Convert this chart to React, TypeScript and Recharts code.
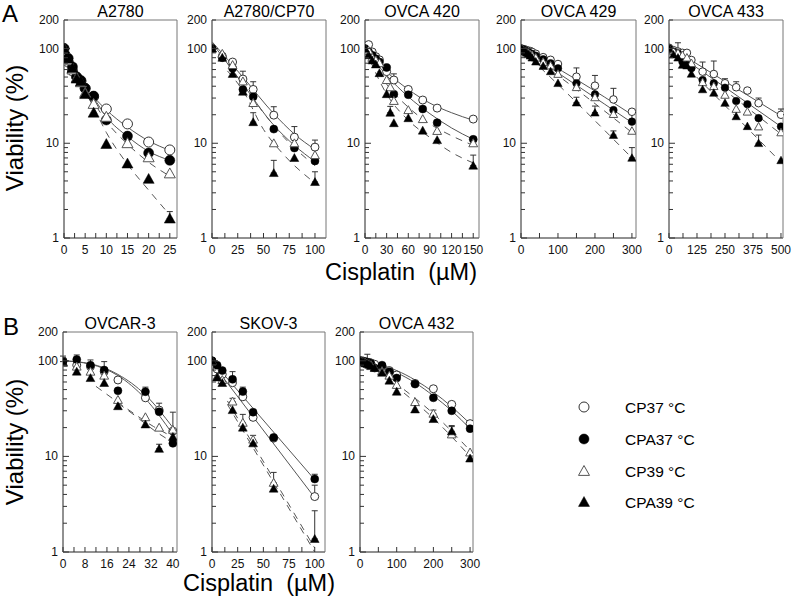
import React from "react";
import { ComposedChart, Scatter, Line, XAxis, YAxis, ErrorBar, ReferenceArea } from "recharts";

const FONT = "'Liberation Sans', Arial, Helvetica, sans-serif";

// ---------- shared axis ticks ----------
const Y_TICKS = [1, 2, 3, 4, 5, 6, 7, 8, 9, 10, 20, 30, 40, 50, 60, 70, 80, 90, 100, 200];
const Y_LABELS = [1, 10, 100, 200];
const Y_MAJORS = [1, 10, 100];

const SERIES_NAMES = ["CP37 \u00B0C", "CPA37 \u00B0C", "CP39 \u00B0C", "CPA39 \u00B0C"];

// ---------- A2780 ----------
const A2780_X = [0, 1, 2, 3, 4, 5, 7, 10, 15, 20, 25];
const A2780_CP37 = [100, 72, 58, 50, 45, 38, 31, 23, 16, 10.3, 8.5];
const A2780_CPA37 = [100, 79, 64, 50, 46, 38, 31.5, 17.6, 11.9, 7.9, 6.6];
const A2780_CP39 = [100, 75, 60, 49, 44, 34, 26, 19, 10, 7.1, 4.8];
const A2780_CPA39 = [100, 78, 62, 48, 45, 33, 21, 9.8, 6.1, 4.2, 1.6];
const A2780_CPA39_ERR = [null, null, null, null, null, null, null, null, null, null, 0.3];
const A2780_FIT_X = [0, 2, 5, 7, 10, 15, 20, 25];
const A2780_FIT_CP37 = [95, 62, 40, 31, 22.5, 14.8, 10.6, 8.4];
const A2780_FIT_CPA37 = [95, 62, 38, 30, 19, 11.8, 8.2, 6.6];
const A2780_FIT_CP39 = [95, 62, 36, 27, 17, 9.8, 6.3, 4.5];
const A2780_FIT_CPA39 = [95, 62, 35, 24, 13, 6.0, 3.2, 1.75];
const A2780_XTICKS = [0, 2.5, 5, 7.5, 10, 12.5, 15, 17.5, 20, 22.5, 25];
const A2780_XLABELS = [0, 5, 10, 15, 20, 25];

// ---------- A2780/CP70 ----------
const CP70_X = [0, 10, 20, 30, 40, 60, 80, 100];
const CP70_CP37 = [100, 83, 72, 47.6, 37, 19.8, 11.6, 9.1];
const CP70_CPA37 = [100, 80, 62, 37, 31, 14.1, 8.9, 6.5];
const CP70_CP39 = [100, 88, 67, 45, 26.6, 10, 10, 7.5];
const CP70_CPA39 = [100, 80, 54, 35, 16.7, 4.85, 7.0, 3.9];
const CP70_CP37_ERR = [null, null, null, 10, 7.6, 4.5, 3.4, 1.7];
const CP70_CPA39_ERR = [null, null, null, null, 4.3, 1.75, null, 1.1];
const CP70_FIT_X37 = [0, 30, 60, 80, 100];
const CP70_FIT_CP37 = [118, 50, 20.5, 12.5, 8.6];
const CP70_FIT_CPA37 = [115, 42, 15.5, 9.5, 6.4];
const CP70_FIT_X39 = [15, 30, 50, 70, 100];
const CP70_FIT_CP39 = [70, 42, 21, 11.5, 5.8];
const CP70_FIT_CPA39 = [58, 36, 14, 7.5, 3.8];
const CP70_XTICKS = [0, 12.5, 25, 37.5, 50, 62.5, 75, 87.5, 100];
const CP70_XLABELS = [0, 25, 50, 75, 100];

// ---------- OVCA 420 ----------
const O420_X = [0, 5, 10, 15, 20, 30, 35, 40, 60, 80, 100, 150];
const O420_CP37 = [104, 110, 92, 82, 76, 57, null, 46.5, 37, 28.6, 23.5, 18];
const O420_CPA37 = [100, 92, 85, 78, 72, 63, null, 33, 32.5, 23, 16.5, 11];
const O420_CP39 = [100, 95, 80, 75, 70, 46.5, 39, 28, 22.4, 18, 13.5, 10];
const O420_CPA39 = [100, 85, 75, 68, 55, 33, 21, 16.3, 18.4, 13.6, 10.8, 5.8];
const O420_CP37_ERR = [null, null, null, null, null, null, null, 7.5, null, null, null, null];
const O420_CPA39_ERR = [null, null, null, null, null, null, 3.5, null, null, null, null, 1.7];
const O420_FIT_X = [0, 30, 60, 90, 120, 150];
const O420_FIT_CP37 = [105, 57, 37, 26.5, 21, 17.5];
const O420_FIT_CPA37 = [100, 52, 31, 20.5, 14.5, 11];
const O420_FIT_CP39 = [100, 42, 24, 16, 12, 9.5];
const O420_FIT_CPA39 = [100, 33, 17.5, 11.5, 8, 6.2];
const O420_XTICKS = [0, 15, 30, 45, 60, 75, 90, 105, 120, 135, 150];
const O420_XLABELS = [0, 30, 60, 90, 120, 150];

// ---------- OVCA 429 ----------
const O429_X = [0, 5, 10, 15, 20, 25, 30, 40, 60, 80, 100, 150, 200, 250, 300];
const O429_CP37 = [100, 99, 98, 96, 95, 94, 92, 88, 81, 76, 68.6, 50.4, 40.5, 29, 21.5];
const O429_CPA37 = [100, 98, 96, 93, 91, 89, 87, 84, 77, 70, 61.8, 43, 32.8, 22.4, 16.9];
const O429_CP39 = [100, 97, 94, 92, 90, 87, 85, 80, 72, 66, 53.8, 39, 30.5, 20.3, 13.5];
const O429_CPA39 = [100, 96, 93, 90, 87, 84, 80, 72.6, 65.3, 57.4, 43, 26.8, 21, 12.2, 7.0];
const O429_CP37_ERR = [null, null, null, null, null, null, null, null, null, null, null, 12, 11.5, 9, null];
const O429_CPA37_ERR = [null, null, null, null, null, null, null, null, null, null, null, null, null, null, 5.5];
const O429_CPA39_ERR = [null, null, null, null, null, null, null, null, null, null, null, 3.8, 3.7, 1.3, 2];
const O429_FIT_X = [0, 150, 300];
const O429_FIT_CP37 = [102, 47, 20];
const O429_FIT_CPA37 = [100, 41, 16.5];
const O429_FIT_CP39 = [100, 37, 13];
const O429_FIT_CPA39 = [98, 27, 7];
const O429_XTICKS = [0, 50, 100, 150, 200, 250, 300];
const O429_XLABELS = [0, 100, 200, 300];

// ---------- OVCA 433 ----------
const O433_X = [0, 20, 40, 60, 80, 100, 150, 200, 250, 300, 350, 400, 500];
const O433_CP37 = [102, 96, 93, 90, 90, 75.6, 57, 53.8, 43, 39, 36, 26.5, 20];
const O433_CPA37 = [100, 92, 89, 72.6, 72, 62, 46.5, 43, 38.6, 27.9, 25.8, 18.4, 15];
const O433_CP39 = [100, 94, 90, 85, 80, 70, 44, 40, 32.4, 23, 21.5, 15, 13];
const O433_CPA39 = [100, 86, 80, 67, 66, 54, 37, 34, 26.6, 19.2, 15.1, 10, 6.6];
const O433_CP37_ERR = [null, null, 22, null, null, null, 15, 20, 5, 5.6, null, 3.5, 3];
const O433_CPA39_ERR = [null, null, null, null, null, null, null, null, null, null, null, 2.2, null];
const O433_FIT_X = [0, 250, 500];
const O433_FIT_CP37 = [105, 45, 19.5];
const O433_FIT_CPA37 = [100, 39, 15];
const O433_FIT_CP39 = [100, 36, 12.5];
const O433_FIT_CPA39 = [98, 25, 6.3];
const O433_XTICKS = [0, 62.5, 125, 187.5, 250, 312.5, 375, 437.5, 500];
const O433_XLABELS = [0, 125, 250, 375, 500];

// ---------- OVCAR-3 ----------
const OV3_X = [0, 5, 10, 15, 20, 30, 35, 40];
const OV3_CP37 = [100, 90, 87, 77, 63, 41, 30.5, 18.4];
const OV3_CPA37 = [98, 103, 90, 80, 48.6, 47.5, 29.3, 13.7];
const OV3_CP39 = [95, 87, 77, 70, 39, 25.7, 20, 19];
const OV3_CPA39 = [97, 77, 66, 58.6, 33.5, 21.6, 12, 16];
const OV3_CP37_ERR = [null, null, null, null, null, null, 5.5, 10.6];
const OV3_CPA37_ERR = [14, 12, 12, 18, null, 5.5, null, null];
const OV3_CPA39_ERR = [null, null, null, null, null, null, 1.4, null];
const OV3_FIT_X37 = [0, 10, 20, 30, 40];
const OV3_FIT_CP37 = [100, 93, 72, 44, 20];
const OV3_FIT_CPA37 = [100, 92, 70, 40, 17];
const OV3_FIT_X_CP39 = [12, 24, 33, 40];
const OV3_FIT_CP39 = [54, 30.5, 20.5, 16];
const OV3_FIT_X_CPA39 = [20, 26, 34, 40];
const OV3_FIT_CPA39 = [36, 27, 18, 14];
const OV3_XTICKS = [0, 4, 8, 12, 16, 20, 24, 28, 32, 36, 40];
const OV3_XLABELS = [0, 8, 16, 24, 32, 40];

// ---------- SKOV-3 ----------
const SK3_X = [0, 5, 10, 20, 30, 40, 60, 100];
const SK3_CP37 = [100, 82, 72, 59, 42, 25.6, 15.5, 3.8];
const SK3_CPA37 = [100, 90, 79, 64, 47.6, 29, 15.8, 5.8];
const SK3_CP39 = [100, 68, 63, 37.5, 22.5, 15, 5.3, null];
const SK3_CPA39 = [100, 67, 58.6, 30.5, 20, 13.7, 4.6, 1.37];
const SK3_CP37_ERR = [null, null, null, null, null, null, null, 1.2];
const SK3_CPA37_ERR = [null, null, null, 13, 5.4, null, null, 0.7];
const SK3_CP39_ERR = [null, null, null, 3, 5, 1.6, 1.5, null];
const SK3_CPA39_ERR = [null, null, null, null, null, null, null, 1.33];
const SK3_FIT_X37 = [0, 100];
const SK3_FIT_CP37 = [95, 3.7];
const SK3_FIT_CPA37 = [100, 5.7];
const SK3_FIT_X39 = [15, 100];
const SK3_FIT_CP39 = [38, 1.1];
const SK3_FIT_CPA39 = [35, 1.0];
const SK3_XTICKS = [0, 12.5, 25, 37.5, 50, 62.5, 75, 87.5, 100];
const SK3_XLABELS = [0, 25, 50, 75, 100];

// ---------- OVCA 432 ----------
const O432_X = [0, 5, 10, 15, 20, 25, 30, 40, 60, 80, 100, 150, 200, 250, 300];
const O432_CP37 = [100, 100, 99, 98, 97, 96, 95, 92, 88, 79, 71, 58, 51, 35, 22];
const O432_CPA37 = [100, 99, 98, 97, 96, 95, 93, 84, 90, 77, 66, 57, 41, 30, 19.5];
const O432_CP39 = [100, 98, 97, 95, 94, 92, 90, 85, 78, 70, 56, 37, 28, 17, 11];
const O432_CPA39 = [100, 97, 96, 94, 93, 91, 88, 84, 75, 62, 47.5, 31, 24.6, 18.3, 9.5];
const O432_CP37_ERR = [null, null, null, null, 20, null, null, null, null, null, null, null, null, null, null];
const O432_CP39_ERR = [null, null, null, null, null, null, null, null, null, null, null, null, 2.5, 4, null];
const O432_CPA39_ERR = [null, null, null, null, null, null, null, null, null, null, null, null, null, 2.2, null];
const O432_FIT_X37 = [0, 50, 100, 150, 200, 250, 300];
const O432_FIT_CP37 = [100, 92, 79, 63, 47, 33, 22];
const O432_FIT_CPA37 = [100, 90, 75, 59, 43, 30, 19.5];
const O432_FIT_X39 = [120, 200, 300];
const O432_FIT_CP39 = [50, 28, 11.5];
const O432_FIT_CPA39 = [46, 25, 10];
const O432_XTICKS = [0, 50, 100, 150, 200, 250, 300];
const O432_XLABELS = [0, 100, 200, 300];

type Arr = (number | null)[];
type SeriesDef = { y: Arr; err?: Arr; fx: number[]; fy: number[] };
type PanelDef = {
  title: string;
  left: number; right: number; top: number; bottom: number;
  xMax: number; xTicks: number[]; xLabels: number[];
  x: number[]; r: number;
  series: SeriesDef[];
};

const PANELS: PanelDef[] = [
  { title: "A2780", left: 64, right: 177, top: 20, bottom: 238, xMax: 26.7, xTicks: A2780_XTICKS, xLabels: A2780_XLABELS, x: A2780_X, r: 5,
    series: [
      { y: A2780_CP37, fx: A2780_FIT_X, fy: A2780_FIT_CP37 },
      { y: A2780_CPA37, fx: A2780_FIT_X, fy: A2780_FIT_CPA37 },
      { y: A2780_CP39, fx: A2780_FIT_X, fy: A2780_FIT_CP39 },
      { y: A2780_CPA39, err: A2780_CPA39_ERR, fx: A2780_FIT_X, fy: A2780_FIT_CPA39 },
    ] },
  { title: "A2780/CP70", left: 212, right: 326, top: 20, bottom: 238, xMax: 110.7, xTicks: CP70_XTICKS, xLabels: CP70_XLABELS, x: CP70_X, r: 4,
    series: [
      { y: CP70_CP37, err: CP70_CP37_ERR, fx: CP70_FIT_X37, fy: CP70_FIT_CP37 },
      { y: CP70_CPA37, fx: CP70_FIT_X37, fy: CP70_FIT_CPA37 },
      { y: CP70_CP39, fx: CP70_FIT_X39, fy: CP70_FIT_CP39 },
      { y: CP70_CPA39, err: CP70_CPA39_ERR, fx: CP70_FIT_X39, fy: CP70_FIT_CPA39 },
    ] },
  { title: "OVCA 420", left: 365, right: 479, top: 20, bottom: 238, xMax: 158, xTicks: O420_XTICKS, xLabels: O420_XLABELS, x: O420_X, r: 4,
    series: [
      { y: O420_CP37, err: O420_CP37_ERR, fx: O420_FIT_X, fy: O420_FIT_CP37 },
      { y: O420_CPA37, fx: O420_FIT_X, fy: O420_FIT_CPA37 },
      { y: O420_CP39, fx: O420_FIT_X, fy: O420_FIT_CP39 },
      { y: O420_CPA39, err: O420_CPA39_ERR, fx: O420_FIT_X, fy: O420_FIT_CPA39 },
    ] },
  { title: "OVCA 429", left: 521, right: 636, top: 20, bottom: 238, xMax: 311, xTicks: O429_XTICKS, xLabels: O429_XLABELS, x: O429_X, r: 3.8,
    series: [
      { y: O429_CP37, err: O429_CP37_ERR, fx: O429_FIT_X, fy: O429_FIT_CP37 },
      { y: O429_CPA37, err: O429_CPA37_ERR, fx: O429_FIT_X, fy: O429_FIT_CPA37 },
      { y: O429_CP39, fx: O429_FIT_X, fy: O429_FIT_CP39 },
      { y: O429_CPA39, err: O429_CPA39_ERR, fx: O429_FIT_X, fy: O429_FIT_CPA39 },
    ] },
  { title: "OVCA 433", left: 669, right: 783, top: 20, bottom: 238, xMax: 509, xTicks: O433_XTICKS, xLabels: O433_XLABELS, x: O433_X, r: 3.8,
    series: [
      { y: O433_CP37, err: O433_CP37_ERR, fx: O433_FIT_X, fy: O433_FIT_CP37 },
      { y: O433_CPA37, fx: O433_FIT_X, fy: O433_FIT_CPA37 },
      { y: O433_CP39, fx: O433_FIT_X, fy: O433_FIT_CP39 },
      { y: O433_CPA39, err: O433_CPA39_ERR, fx: O433_FIT_X, fy: O433_FIT_CPA39 },
    ] },
  { title: "OVCAR-3", left: 63, right: 177, top: 332, bottom: 552, xMax: 41.5, xTicks: OV3_XTICKS, xLabels: OV3_XLABELS, x: OV3_X, r: 4,
    series: [
      { y: OV3_CP37, err: OV3_CP37_ERR, fx: OV3_FIT_X37, fy: OV3_FIT_CP37 },
      { y: OV3_CPA37, err: OV3_CPA37_ERR, fx: OV3_FIT_X37, fy: OV3_FIT_CPA37 },
      { y: OV3_CP39, fx: OV3_FIT_X_CP39, fy: OV3_FIT_CP39 },
      { y: OV3_CPA39, err: OV3_CPA39_ERR, fx: OV3_FIT_X_CPA39, fy: OV3_FIT_CPA39 },
    ] },
  { title: "SKOV-3", left: 212, right: 325, top: 332, bottom: 552, xMax: 110, xTicks: SK3_XTICKS, xLabels: SK3_XLABELS, x: SK3_X, r: 4,
    series: [
      { y: SK3_CP37, err: SK3_CP37_ERR, fx: SK3_FIT_X37, fy: SK3_FIT_CP37 },
      { y: SK3_CPA37, err: SK3_CPA37_ERR, fx: SK3_FIT_X37, fy: SK3_FIT_CPA37 },
      { y: SK3_CP39, err: SK3_CP39_ERR, fx: SK3_FIT_X39, fy: SK3_FIT_CP39 },
      { y: SK3_CPA39, err: SK3_CPA39_ERR, fx: SK3_FIT_X39, fy: SK3_FIT_CPA39 },
    ] },
  { title: "OVCA 432", left: 360, right: 473, top: 332, bottom: 552, xMax: 308, xTicks: O432_XTICKS, xLabels: O432_XLABELS, x: O432_X, r: 4,
    series: [
      { y: O432_CP37, err: O432_CP37_ERR, fx: O432_FIT_X37, fy: O432_FIT_CP37 },
      { y: O432_CPA37, fx: O432_FIT_X37, fy: O432_FIT_CPA37 },
      { y: O432_CP39, err: O432_CP39_ERR, fx: O432_FIT_X39, fy: O432_FIT_CP39 },
      { y: O432_CPA39, err: O432_CPA39_ERR, fx: O432_FIT_X39, fy: O432_FIT_CPA39 },
    ] },
];

const KINDS = ["oc", "fc", "ot", "ft"];
const DASHED = [false, false, true, true];

function Marker(props: any) {
  const { cx, cy, kind, r } = props;
  if (cx == null || cy == null || isNaN(cx) || isNaN(cy)) return null;
  if (kind === "oc") return <circle cx={cx} cy={cy} r={r} fill="#fff" stroke="#333" strokeWidth={1} />;
  if (kind === "fc") return <circle cx={cx} cy={cy} r={r} fill="#000" stroke="#000" strokeWidth={0.5} />;
  const h = r * 1.1;
  const pts = `${cx},${cy - h} ${cx + h},${cy + h * 0.8} ${cx - h},${cy + h * 0.8}`;
  if (kind === "ot") return <polygon points={pts} fill="#fff" stroke="#555" strokeWidth={1} />;
  return <polygon points={pts} fill="#000" stroke="#000" strokeWidth={0.5} />;
}

const YW = 40, MT = 12, MR = 14, XH = 26;

function Panel({ p }: { p: PanelDef }) {
  const pw = p.right - p.left;
  const ph = p.bottom - p.top;
  const w = pw + YW + MR;
  const h = ph + MT + XH;
  const plotBottom = MT + ph;

  const yTick = (props: any) => {
    const { y, payload } = props;
    const v = payload.value;
    const major = Y_MAJORS.includes(v);
    return (
      <g>
        <line x1={YW} x2={YW + (major ? 6 : 4)} y1={y} y2={y} stroke="#333" strokeWidth={1} />
        {Y_LABELS.includes(v) && (
          <text x={YW - 5} y={y + 4} textAnchor="end" fontSize={12} fontFamily={FONT} fill="#111">{v}</text>
        )}
      </g>
    );
  };
  const xTick = (props: any) => {
    const { x, payload } = props;
    const v = payload.value;
    return (
      <g>
        <line x1={x} x2={x} y1={plotBottom} y2={plotBottom - 5} stroke="#333" strokeWidth={1} />
        {p.xLabels.includes(v) && (
          <text x={x} y={plotBottom + 16} textAnchor="middle" fontSize={12} fontFamily={FONT} fill="#111">{v}</text>
        )}
      </g>
    );
  };

  return (
    <div style={{ position: "absolute", left: p.left - YW, top: p.top - MT, width: w, height: h }}>
      <ComposedChart width={w} height={h} margin={{ top: MT, right: MR, bottom: 0, left: 0 }}>
        <XAxis type="number" dataKey="x" domain={[0, p.xMax]} allowDataOverflow ticks={p.xTicks} interval={0}
          tick={xTick} tickLine={false} axisLine={{ stroke: "#666" }} height={XH} />
        <YAxis type="number" scale="log" domain={[1, 200]} allowDataOverflow ticks={Y_TICKS} interval={0}
          tick={yTick} tickLine={false} axisLine={{ stroke: "#666" }} width={YW} />
        <ReferenceArea x1={0} x2={p.xMax} y1={1} y2={200} fill="none" fillOpacity={0} stroke="#777" strokeWidth={1} />
        {p.series.map((s, si) => (
          <Line key={"f" + si} data={s.fx.map((xv, i) => ({ x: xv, y: s.fy[i] }))} dataKey="y" type="monotone"
            stroke="#555" strokeWidth={1} strokeDasharray={DASHED[si] ? "7 6" : undefined}
            dot={false} activeDot={false} isAnimationActive={false} legendType="none" />
        ))}
        {p.series.map((s, si) => {
          const pts = s.y
            .map((v, i) => {
              if (v == null) return null;
              const e = s.err ? s.err[i] : null;
              const o: any = { x: p.x[i], y: v };
              if (e != null) o.e = [0, e];
              return o;
            })
            .filter(Boolean);
          return (
            <Scatter key={"s" + si} data={pts} dataKey="y" isAnimationActive={false}
              shape={(props: any) => <Marker {...props} kind={KINDS[si]} r={p.r} />}>
              {s.err && <ErrorBar dataKey="e" direction="y" width={3} stroke="#333" strokeWidth={1} />}
            </Scatter>
          );
        })}
      </ComposedChart>
    </div>
  );
}

const LEGEND_ROWS = [407, 439, 471, 502];

export default function App() {
  return (
    <div style={{ position: "absolute", left: 0, top: 0, width: 792, height: 604, background: "#fff", overflow: "hidden" }}>
      <svg width={792} height={604} style={{ position: "absolute", left: 0, top: 0 }} fontFamily={FONT}>
        <text x={2} y={22} fontSize={24} fill="#000">A</text>
        <text x={3} y={335} fontSize={24} fill="#000">B</text>
        {PANELS.map((p, i) => (
          <text key={i} x={(p.left + p.right) / 2} y={p.top - 3} textAnchor="middle" fontSize={16} fill="#000">{p.title}</text>
        ))}
        <text transform="translate(23,128) rotate(-90)" textAnchor="middle" fontSize={24} fill="#000">Viability (%)</text>
        <text transform="translate(23,442) rotate(-90)" textAnchor="middle" fontSize={24} fill="#000">Viability (%)</text>
        <text x={401} y={280} textAnchor="middle" fontSize={23.5} fill="#000" style={{ whiteSpace: "pre" }}>{"Cisplatin  (\u00B5M)"}</text>
        <text x={259} y={591} textAnchor="middle" fontSize={23.5} fill="#000" style={{ whiteSpace: "pre" }}>{"Cisplatin  (\u00B5M)"}</text>
        {SERIES_NAMES.map((name, i) => (
          <g key={name}>
            <Marker cx={584} cy={LEGEND_ROWS[i]} kind={KINDS[i]} r={5} />
            <text x={625} y={LEGEND_ROWS[i] + 5.5} fontSize={15.5} fill="#000">{name}</text>
          </g>
        ))}
      </svg>
      {PANELS.map((p, i) => <Panel key={i} p={p} />)}
    </div>
  );
}
